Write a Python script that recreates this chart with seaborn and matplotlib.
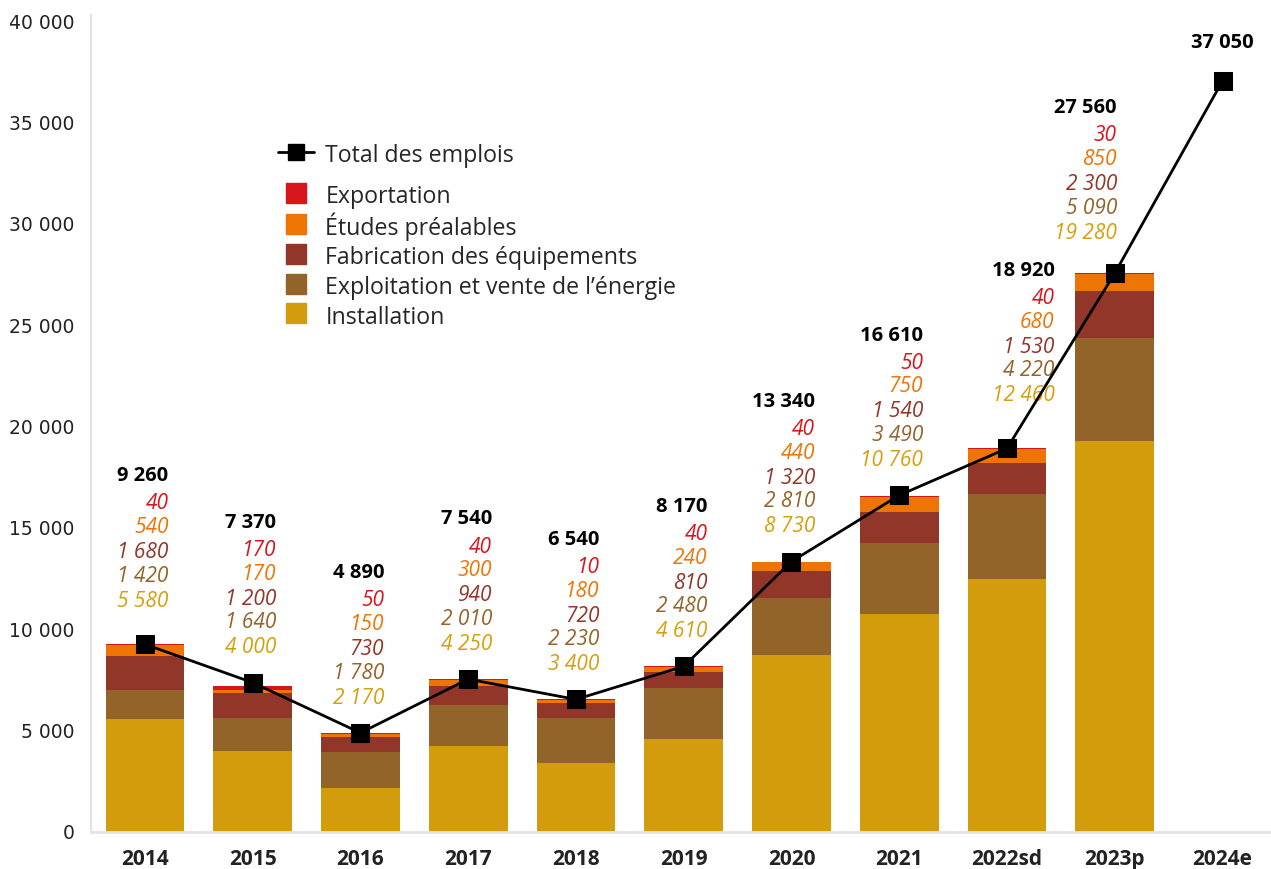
import matplotlib
matplotlib.use("Agg")
import matplotlib.pyplot as plt
from matplotlib.lines import Line2D
from matplotlib.ticker import FuncFormatter
import seaborn as sns
import numpy as np
import pandas as pd

# data
years = ['2014', '2015', '2016', '2017', '2018', '2019', '2020', '2021', '2022sd', '2023p', '2024e']
installation = [5580, 4000, 2170, 4250, 3400, 4610, 8730, 10760, 12460, 19280]
exploitation = [1420, 1640, 1780, 2010, 2230, 2480, 2810, 3490, 4220, 5090]
fabrication = [1680, 1200, 730, 940, 720, 810, 1320, 1540, 1530, 2300]
etudes = [540, 170, 150, 300, 180, 240, 440, 750, 680, 850]
exportation = [40, 170, 50, 40, 10, 40, 40, 50, 40, 30]
totals = [9260, 7370, 4890, 7540, 6540, 8170, 13340, 16610, 18920, 27560, 37050]

series_names = ['Installation', 'Exploitation et vente de l\u2019énergie', 'Fabrication des équipements',
                'Études préalables', 'Exportation']
colors = ['#d39c0d', '#936429', '#92362a', '#ee7406', '#d7161b']
text_colors = ['#d4a00f', '#936429', '#92362a', '#ee7406', '#d7161b']

FONT = 'Open Sans'

def fmt(v):
    return f"{v:,.0f}".replace(",", " ")

sns.set_style("white")
plt.rcParams['font.family'] = [FONT, 'DejaVu Sans']

fig = plt.figure(figsize=(12.71, 8.69), dpi=100)
ax = fig.add_axes([0.0716, 0.0426, 0.9284, 0.9401])

# stacked bars: cumulative sums drawn from the top down
stack = [installation, exploitation, fabrication, etudes, exportation]
cum = np.cumsum(np.array(stack), axis=0)
n_bar = len(installation)
for k in range(len(stack) - 1, -1, -1):
    df = pd.DataFrame({'year': years[:n_bar], 'value': cum[k]})
    sns.barplot(data=df, x='year', y='value', order=years, color=colors[k],
                width=0.73, linewidth=0, saturation=1, ax=ax)

# total line
pos = np.arange(len(years))
sns.lineplot(x=pos, y=totals, color='black', linewidth=2, marker='s', markersize=13,
             markeredgecolor='black', ax=ax, zorder=5)

# annotations
nudge_x = {8: 0.44, 9: 0.02}
nudge_y = {0: 6, 8: 13, 9: 4}
val_offsets = [95, 78, 60, 43, 25]  # points above the total point, top to bottom
for i in range(n_bar):
    x = i + nudge_x.get(i, 0.22)
    dy = nudge_y.get(i, 0)
    ax.annotate(fmt(totals[i]), xy=(x, totals[i]), xytext=(0, 115 + dy), textcoords='offset points',
                ha='right', va='center', fontsize=14.5, fontweight='bold', color='black')
    vals = [exportation[i], etudes[i], fabrication[i], exploitation[i], installation[i]]
    cols = text_colors[::-1]
    for v, c, off in zip(vals, cols, val_offsets):
        ax.annotate(fmt(v), xy=(x, totals[i]), xytext=(0, off + dy), textcoords='offset points',
                    ha='right', va='center', fontsize=15, fontstyle='italic', color=c)
ax.annotate(fmt(totals[-1]), xy=(len(years) - 1, totals[-1]), xytext=(0, 27),
            textcoords='offset points', ha='center', va='center', fontsize=14.5,
            fontweight='bold', color='black')

# axes
ax.set_xlim(-0.5, 10.45)
ax.set_ylim(0, 40300)
ax.set_yticks(np.arange(0, 40001, 5000))
ax.yaxis.set_major_formatter(FuncFormatter(lambda v, p: fmt(v)))
ax.tick_params(axis='y', length=0, pad=12, labelsize=13.5, labelcolor='#222222')
ax.tick_params(axis='x', length=0, pad=12, labelsize=15, labelcolor='#222222')
for lab in ax.get_yticklabels():
    lab.set_fontfamily('DejaVu Sans')
for lab in ax.get_xticklabels():
    lab.set_fontweight('bold')
ax.set_xlabel('')
ax.set_ylabel('')
for s in ['top', 'right']:
    ax.spines[s].set_visible(False)
ax.spines['left'].set_color('#e3e3e3')
ax.spines['left'].set_linewidth(1.5)
ax.spines['bottom'].set_color('#e3e3e3')
ax.spines['bottom'].set_linewidth(2)

# legend: the total line on its own, then the stacked series
leg_kw = dict(loc='upper left', frameon=False, fontsize=16.7, handlelength=1.55,
              handleheight=1.3, handletextpad=0.48, labelspacing=0.14,
              borderaxespad=0, borderpad=0)
line_h = [Line2D([], [], color='black', linewidth=2, marker='s', markersize=11)]
fig.legend(line_h, ['Total des emplois'], bbox_to_anchor=(0.219, 0.8365), **leg_kw)
patch_h, patch_l = [], []
for k in range(len(stack) - 1, -1, -1):
    patch_h.append(Line2D([], [], linestyle='none', marker='s', markersize=14, color=colors[k]))
    patch_l.append(series_names[k])
fig.legend(patch_h, patch_l, bbox_to_anchor=(0.219, 0.79), **leg_kw)

fig.savefig('out.png', dpi=100)
